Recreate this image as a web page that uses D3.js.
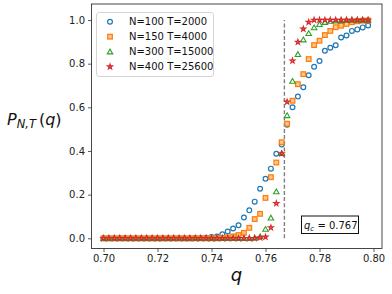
<!DOCTYPE html>
<html><head><meta charset="utf-8">
<script src="https://cdn.jsdelivr.net/npm/d3@7"></script>
<style>body{margin:0;background:#fff}svg{display:block;font-family:"DejaVu Sans",sans-serif}</style>
</head><body><svg id="c" width="392" height="294"></svg>
<script>
const qValues = [0.700,0.702,0.704,0.706,0.708,0.710,0.712,0.714,0.716,0.718,
  0.720,0.722,0.724,0.726,0.728,0.730,0.732,0.734,0.736,0.738,
  0.740,0.742,0.744,0.746,0.748,0.750,0.752,0.754,0.756,0.758,
  0.760,0.762,0.764,0.766,0.768,0.770,0.772,0.774,0.776,0.778,
  0.780,0.782,0.784,0.786,0.788,0.790,0.792,0.794,0.796,0.798];
const pN100 = [0,0,0,0,0,0,0,0,0,0, 0,0,0,0,0,0,0,0.001,0.001,0.003,
  0.006,0.008,0.018,0.031,0.045,0.06,0.095,0.128,0.168,0.227,
  0.273,0.319,0.387,0.43,0.52,0.600,0.649,0.692,0.747,0.786,
  0.812,0.859,0.873,0.884,0.920,0.929,0.950,0.957,0.966,0.975];
const pN150 = [0,0,0,0,0,0,0,0,0,0, 0,0,0,0,0,0,0,0,0,0,
  0,0,0.002,0.004,0.009,0.015,0.025,0.048,0.088,0.112,
  0.185,0.28,0.347,0.44,0.525,0.63,0.706,0.752,0.821,0.885,
  0.905,0.931,0.95,0.967,0.974,0.982,0.99,0.994,0.997,0.998];
const pN300 = [0,0,0,0,0,0,0,0,0,0, 0,0,0,0,0,0,0,0,0,0,
  0,0,0,0,0,0,0,0,0.002,0.008,
  0.042,0.094,0.214,0.389,0.563,0.72,0.843,0.91,0.939,0.965,
  0.98,0.99,0.995,0.997,0.998,1,1,1,1,1];
const pN400 = [0,0,0,0,0,0,0,0,0,0, 0,0,0,0,0,0,0,0,0,0,
  0,0,0,0,0,0,0,0,0,0.003,
  0.006,0.049,0.16,0.388,0.625,0.813,0.899,0.959,0.99,1,
  1,1,1,1,1,1,1,1,1,1];
const seriesLabels = ["N=100 T=2000","N=150 T=4000","N=300 T=15000","N=400 T=25600"];
const xTicks = [0.70,0.72,0.74,0.76,0.78,0.80];
const yTicks = [0.0,0.2,0.4,0.6,0.8,1.0];
const qc = 0.767;

const svg = d3.select("#c");
const L=91.5, R=382, T=4, B=248.5;
const x = d3.scaleLinear().domain([0.70,0.80]).range([103.5,373.5]);
const y = d3.scaleLinear().domain([0,1]).range([238.3,20]);

const colors = ["#1f77b4","#ff7f0e","#2ca02c","#d62728"];
const data = [pN100,pN150,pN300,pN400];

const xa = svg.append("g").attr("transform",`translate(0,${B})`)
  .call(d3.axisBottom(x).tickValues(xTicks).tickFormat(d3.format(".2f")).tickSizeOuter(0).tickSize(3.5).tickPadding(3));
const ya = svg.append("g").attr("transform",`translate(${L},0)`)
  .call(d3.axisLeft(y).tickValues(yTicks).tickFormat(d3.format(".1f")).tickSizeOuter(0).tickSize(3.5).tickPadding(3));
[xa,ya].forEach(g=>{g.select(".domain").remove();
  g.selectAll("text").attr("font-size",10).attr("fill","#222").attr("font-family","DejaVu Sans");
  g.selectAll("line").attr("stroke","#333").attr("stroke-width",0.8);});

svg.append("line").attr("x1",x(qc)).attr("x2",x(qc)).attr("y1",y(0)).attr("y2",y(1))
  .attr("stroke","#808080").attr("stroke-width",1.4).attr("stroke-dasharray","4,2.2");

function marker(g, i){
  if(i===0) return g.append("circle").attr("r",2.4).attr("fill","none").attr("stroke",colors[0]).attr("stroke-width",1.2);
  if(i===1) return g.append("rect").attr("x",-2.3).attr("y",-2.3).attr("width",4.6).attr("height",4.6)
      .attr("fill","#ffc690").attr("stroke",colors[1]).attr("stroke-width",1.3);
  if(i===2) return g.append("path").attr("d",d3.symbol(d3.symbolTriangle,13)()).attr("transform","translate(0,0.6)")
      .attr("fill","none").attr("stroke",colors[2]).attr("stroke-width",1.1);
  return g.append("path").attr("d",d3.symbol(d3.symbolStar,8)())
      .attr("fill","#f08a8a").attr("stroke",colors[3]).attr("stroke-width",1.1);
}

data.forEach((arr,i)=>{
  const g = svg.append("g");
  arr.forEach((v,k)=>{
    const m = g.append("g").attr("transform",`translate(${x(qValues[k])},${y(v)})`);
    marker(m,i);
  });
});

svg.append("rect").attr("x",L).attr("y",T).attr("width",R-L).attr("height",B-T)
  .attr("fill","none").attr("stroke","#333").attr("stroke-width",0.9);

const lg = svg.append("g");
lg.append("rect").attr("x",96.5).attr("y",12.5).attr("width",117).attr("height",64).attr("rx",2.5)
  .attr("fill","rgba(255,255,255,0.85)").attr("stroke","#d0d0d0").attr("stroke-width",0.9);
seriesLabels.forEach((s,i)=>{
  const yy = 21.7 + i*15;
  const m = lg.append("g").attr("transform",`translate(110,${yy})`);
  marker(m,i);
  lg.append("text").attr("x",129).attr("y",yy+3.6).attr("font-size",10).attr("fill","#111").text(s);
});

svg.append("rect").attr("x",301.5).attr("y",216).attr("width",57).attr("height",17.5)
  .attr("fill","#fff").attr("stroke","#111").attr("stroke-width",1);
const qt = svg.append("text").attr("x",304).attr("y",228.5).attr("font-size",10).attr("fill","#111");
qt.append("tspan").attr("font-style","italic").text("q");
qt.append("tspan").attr("font-style","italic").attr("font-size",7).attr("dy",2.3).text("c");
qt.append("tspan").attr("dy",-2.3).text(" = 0.767");

svg.append("text").attr("x",236.5).attr("y",281).attr("text-anchor","middle").attr("font-size",18)
  .attr("font-style","italic").attr("fill","#111").text("q");
const yl = svg.append("text").attr("x",7).attr("y",125).attr("font-size",16).attr("fill","#111");
yl.append("tspan").attr("font-style","italic").text("P");
yl.append("tspan").attr("font-style","italic").attr("font-size",11.5).attr("dy",3).text("N,T");
yl.append("tspan").attr("dy",-3).attr("dx",3).text("(");
yl.append("tspan").attr("font-style","italic").text("q");
yl.append("tspan").text(")");
</script></body></html>
